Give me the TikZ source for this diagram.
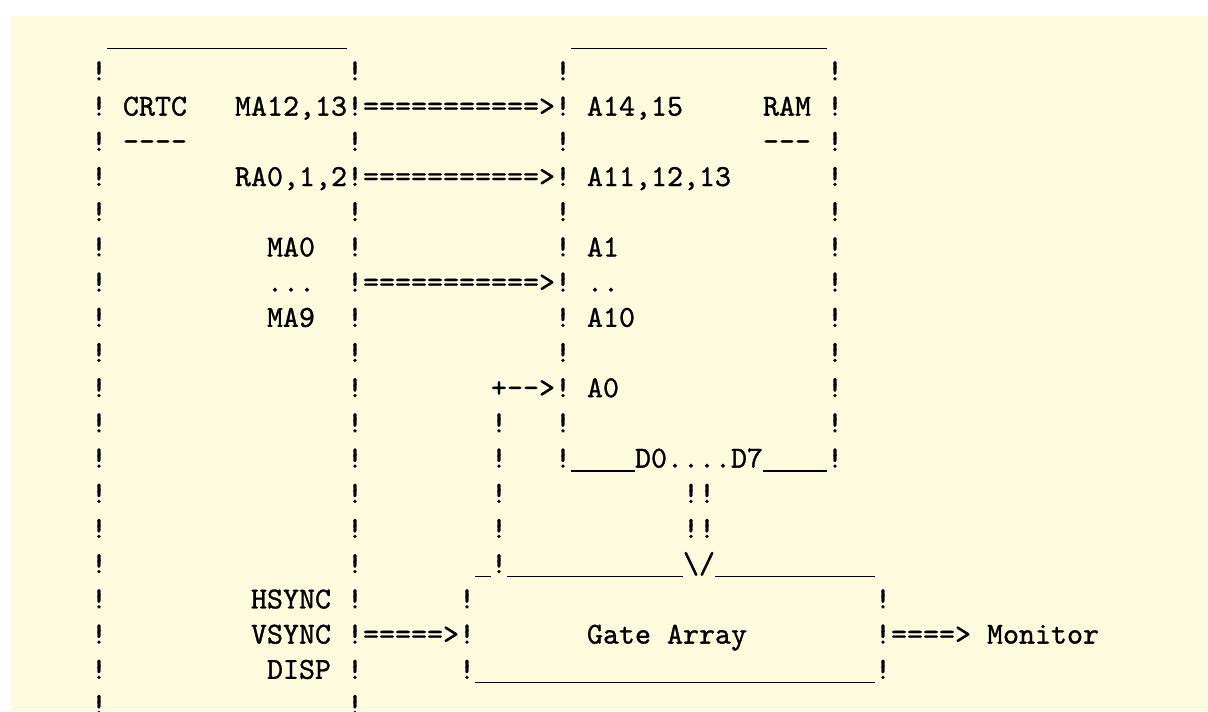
\documentclass[tikz,border=0pt]{standalone}
\usepackage{fontspec}
\setmonofont{lmmono10-regular.otf}[FakeBold=1]
\definecolor{paper}{RGB}{253,251,221}
\newcommand{\asciifont}{\fontsize{30.48pt}{36pt}\selectfont\ttfamily}
\tikzset{
  cell/.style={font=\asciifont, inner sep=0pt, outer sep=0pt, anchor=base west},
  rule/.style={line width=1.4pt},
}

\begin{document}
\begin{tikzpicture}[x=16pt, y=-35.2pt]
  \useasboundingbox (-5.6875,-0.284) rectangle (69.8125,19.915);
  \fill[white] (-5.6875,-0.284) rectangle (69.8125,19.915);
  \fill[paper] (-5,0.17) rectangle (69.8125,19.915);

  % sides of the boxes
  \foreach \r in {2,...,20}{
    \node[cell] (crtcl-\r) at (0,\r) {!};
    \node[cell] (crtcr-\r) at (16,\r) {!};
  }
  \foreach \r in {2,...,13}{
    \node[cell] (raml-\r) at (29,\r) {!};
    \node[cell] (ramr-\r) at (46,\r) {!};
  }
  \foreach \r in {12,...,16}
    \node[cell] (a0bar-\r) at (25,\r) {!};
  \foreach \r in {17,18,19}{
    \node[cell] (gal-\r) at (23,\r) {!};
    \node[cell] (gar-\r) at (49,\r) {!};
  }
  \foreach \r in {14,15}
    \node[cell] (databus-\r) at (37,\r) {!!};

  % tops and bottoms
  \draw[rule] (1,1.1) -- (16,1.1);
  \draw[rule] (30,1.1) -- (46,1.1);
  \draw[rule] (30,13.1) -- (34,13.1);
  \draw[rule] (42,13.1) -- (46,13.1);
  \draw[rule] (24,16.1) -- (25,16.1);
  \draw[rule] (26,16.1) -- (37,16.1);
  \draw[rule] (39,16.1) -- (49,16.1);
  \draw[rule] (24,19.1) -- (49,19.1);

  % CRTC
  \node[cell] (crtc) at (2,3) {CRTC};
  \node[cell] (crtcul) at (2,4) {-{}-{}-{}-};
  \node[cell] (ma1213) at (9,3) {MA12,13};
  \node[cell] (ra012) at (9,5) {RA0,1,2};
  \node[cell] (ma0) at (11,7) {MA0};
  \node[cell] (madots) at (11,8) {...};
  \node[cell] (ma9) at (11,9) {MA9};
  \node[cell] (hsync) at (10,17) {HSYNC};
  \node[cell] (vsync) at (10,18) {VSYNC};
  \node[cell] (disp) at (11,19) {DISP};

  % RAM
  \node[cell] (ram) at (42,3) {RAM};
  \node[cell] (ramul) at (42,4) {-{}-{}-};
  \node[cell] (a1415) at (31,3) {A14,15};
  \node[cell] (a111213) at (31,5) {A11,12,13};
  \node[cell] (a1) at (31,7) {A1};
  \node[cell] (adots) at (31,8) {..};
  \node[cell] (a10) at (31,9) {A10};
  \node[cell] (a0) at (31,11) {A0};
  \node[cell] (d0d7) at (34,13) {D0....D7};

  % Gate Array
  \node[cell] (vee) at (37,16) {\textbackslash/};
  \node[cell] (ga) at (31,18) {Gate Array};
  \node[cell] (monitor) at (56,18) {Monitor};

  % arrows
  \node[cell] (bus1) at (17,3) {===========>};
  \node[cell] (bus2) at (17,5) {===========>};
  \node[cell] (bus3) at (17,8) {===========>};
  \node[cell] (a0plus) at (25,11) {+};
  \node[cell] (a0tip) at (26,11) {-{}->};
  \node[cell] (syncbus) at (17,18) {=====>};
  \node[cell] (videobus) at (50,18) {====>};
\end{tikzpicture}
\end{document}
